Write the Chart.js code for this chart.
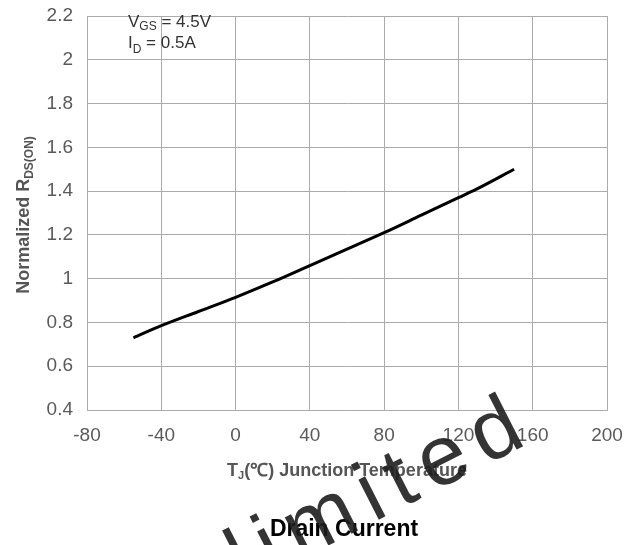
<!DOCTYPE html>
<html>
<head>
<meta charset="utf-8">
<script src="https://cdn.jsdelivr.net/npm/chart.js@4.4.1/dist/chart.umd.min.js"></script>
<style>
  html, body { margin: 0; padding: 0; background: #fff; }
  #wrap { width: 644px; height: 545px; position: relative; }
</style>
</head>
<body>
<div id="wrap"><canvas id="rds-chart" width="644" height="545"></canvas></div>
<script>
const tempC = [-55, -40, -20, 0, 20, 40, 60, 80, 100, 120, 130, 150];
const rdsNorm = [0.73, 0.785, 0.85, 0.915, 0.985, 1.06, 1.135, 1.21, 1.29, 1.37, 1.41, 1.5];
const xTicks = [-80, -40, 0, 40, 80, 120, 160, 200];
const yTicks = [0.4, 0.6, 0.8, 1, 1.2, 1.4, 1.6, 1.8, 2, 2.2];

const FONT = "'Liberation Sans', Arial, sans-serif";
const gridColor = "#ababab";

// draws runs of text where some pieces sit lower and smaller (subscripts)
function drawRuns(ctx, runs, x, y) {
  let cx = x;
  runs.forEach((r) => {
    ctx.font = r.font;
    ctx.fillText(r.text, cx, y + (r.dy || 0));
    cx += ctx.measureText(r.text).width;
  });
  return cx - x;
}
function runsWidth(ctx, runs) {
  let w = 0;
  runs.forEach((r) => {
    ctx.font = r.font;
    w += ctx.measureText(r.text).width;
  });
  return w;
}

const textPlugin = {
  id: "texts",
  afterDraw: (chart) => {
    const ctx = chart.ctx;
    ctx.save();
    ctx.textBaseline = "alphabetic";
    ctx.textAlign = "left";

    // test conditions in the top-left cell
    ctx.fillStyle = "#333";
    drawRuns(ctx, [
      { text: "V", font: "17px " + FONT },
      { text: "GS", font: "12px " + FONT, dy: 3 },
      { text: " = 4.5V", font: "17px " + FONT },
    ], 128, 27);
    drawRuns(ctx, [
      { text: "I", font: "17px " + FONT },
      { text: "D", font: "12px " + FONT, dy: 5 },
      { text: " = 0.5A", font: "17px " + FONT },
    ], 128, 48);

    // x axis title
    ctx.fillStyle = "#555";
    const xRuns = [
      { text: "T", font: "bold 18px " + FONT },
      { text: "J", font: "bold 11px " + FONT, dy: 3 },
      { text: "(℃) Junction Temperature", font: "bold 18px " + FONT },
    ];
    const xw = runsWidth(ctx, xRuns);
    drawRuns(ctx, xRuns, 347 - xw / 2, 476);

    // y axis title, rotated
    const yRuns = [
      { text: "Normalized R", font: "bold 18px " + FONT },
      { text: "DS(ON)", font: "bold 12px " + FONT, dy: 4 },
    ];
    ctx.save();
    ctx.translate(29, 215);
    ctx.rotate(-Math.PI / 2);
    const yw = runsWidth(ctx, yRuns);
    drawRuns(ctx, yRuns, -yw / 2, 0);
    ctx.restore();

    // caption
    ctx.fillStyle = "#000";
    ctx.font = "bold 23px " + FONT;
    ctx.textAlign = "center";
    ctx.fillText("Drain Current", 344, 536);

    // watermark
    ctx.save();
    ctx.translate(245, 588);
    ctx.rotate(-27 * Math.PI / 180);
    ctx.fillStyle = "rgba(30,30,30,0.9)";
    ctx.font = "85px " + FONT;
    ctx.letterSpacing = "12px";
    ctx.textAlign = "left";
    ctx.fillText("limited", 0, 0);
    ctx.restore();

    ctx.restore();
  },
};

const ctx = document.getElementById("rds-chart");
new Chart(ctx, {
  type: "line",
  data: {
    datasets: [
      {
        data: tempC.map((t, i) => ({ x: t, y: rdsNorm[i] })),
        borderColor: "#000",
        borderWidth: 3,
        pointRadius: 0,
        cubicInterpolationMode: "monotone",
        fill: false,
      },
    ],
  },
  options: {
    responsive: false,
    animation: false,
    events: [],
    layout: { padding: { top: 16, right: 37, left: 0, bottom: 0 } },
    plugins: { legend: { display: false }, tooltip: { enabled: false } },
    scales: {
      x: {
        type: "linear",
        min: -80,
        max: 200,
        afterBuildTicks: (s) => { s.ticks = xTicks.map((v) => ({ value: v })); },
        afterFit: (s) => {
          s.height = 135;
          s.paddingLeft = 0;
          s.paddingRight = 0;
        },
        grid: { color: gridColor, lineWidth: 1, drawTicks: false },
        border: { color: gridColor, width: 1 },
        ticks: { color: "#5a5a5a", padding: 14, font: { family: FONT, size: 19 }, maxRotation: 0 },
      },
      y: {
        min: 0.4,
        max: 2.2,
        afterBuildTicks: (s) => { s.ticks = yTicks.map((v) => ({ value: v })); },
        afterFit: (s) => {
          s.width = 87;
          s.paddingTop = 0;
          s.paddingBottom = 0;
        },
        grid: { color: gridColor, lineWidth: 1, drawTicks: false },
        border: { color: gridColor, width: 1 },
        ticks: {
          color: "#5a5a5a",
          padding: 14,
          font: { family: FONT, size: 19 },
          callback: (v) => String(Math.round(v * 10) / 10),
        },
      },
    },
  },
  plugins: [textPlugin],
});
</script>
</body>
</html>
